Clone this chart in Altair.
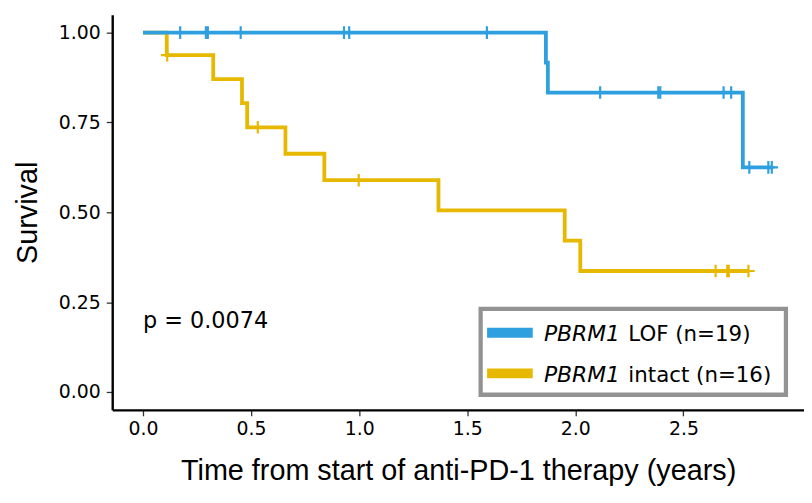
import altair as alt
import pandas as pd

# ---------------- data ----------------
groups = ["PBRM1 LOF", "PBRM1 intact"]
colors = ["#2E9FDF", "#E7B800"]

lof_event_times = [1.864, 1.873, 2.775]
lof_event_surv = [0.9167, 0.8333, 0.625]
lof_censor_times = [0.172, 0.291, 0.300, 0.452, 0.930, 0.954, 1.591,
                    2.115, 2.384, 2.393, 2.686, 2.721, 2.805, 2.893, 2.909]

intact_event_times = [0.110, 0.325, 0.458, 0.482, 0.659, 0.839, 1.367, 1.951, 2.023]
intact_event_surv = [0.9375, 0.8705, 0.8036, 0.7366, 0.6630, 0.5893, 0.5051, 0.4209, 0.3367]
intact_censor_times = [0.112, 0.531, 0.998, 2.649, 2.703, 2.710, 2.801]

x_ticks = [0, 0.5, 1.0, 1.5, 2.0, 2.5]
y_ticks = [0, 0.25, 0.5, 0.75, 1.0]
x_title = "Time from start of anti-PD-1 therapy (years)"
y_title = "Survival"
legend_italic = ["PBRM1", "PBRM1"]
legend_suffix = ["LOF (n=19)", "intact (n=16)"]
p_label = ["p = 0.0074"]
p_time = [0.0]
p_surv = [0.178]


def surv_at(t, et, es):
    s = 1.0
    for tt, ss in zip(et, es):
        if tt <= t:
            s = ss
    return s


def curve_df(name, et, es, ct):
    times = [0.0] + list(et)
    survs = [1.0] + list(es)
    end = max(list(ct) + list(et))
    times.append(end)
    survs.append(surv_at(end, et, es))
    return pd.DataFrame({"time": times, "surv": survs, "group": name,
                         "idx": list(range(len(times)))})


def censor_df(name, et, es, ct):
    return pd.DataFrame({"time": ct, "surv": [surv_at(c, et, es) for c in ct],
                         "group": name})


curves = {
    groups[0]: (lof_event_times, lof_event_surv, lof_censor_times),
    groups[1]: (intact_event_times, intact_event_surv, intact_censor_times),
}

# ---------------- scales & axes ----------------
xs = alt.Scale(domain=[-0.1424, 3.058], nice=False, zero=False)
ys = alt.Scale(domain=[-0.0497, 1.0497], nice=False, zero=False)
cs = alt.Scale(domain=groups, range=colors)

x_axis = alt.Axis(values=x_ticks, format=".1f", title=x_title, grid=False,
                  titleFont="Liberation Sans", titleFontSize=29, titleFontWeight="normal",
                  titleColor="black", titleBaseline="alphabetic", titleY=69.7,
                  labelFont="DejaVu Sans", labelFontSize=19, labelColor="black",
                  labelPadding=4, tickSize=6, tickColor="#333333", tickWidth=1.3,
                  domainColor="black", domainWidth=2.4, labelFlush=False)
y_axis = alt.Axis(values=y_ticks, format=".2f", title=y_title, grid=False,
                  titleFont="Liberation Sans", titleFontSize=29, titleFontWeight="normal",
                  titleColor="black", titleBaseline="alphabetic", titleX=-76.6, titleY=199,
                  labelFont="DejaVu Sans", labelFontSize=19, labelColor="black",
                  labelPadding=6, tickSize=6, tickColor="#333333", tickWidth=1.3,
                  domainColor="black", domainWidth=2.4, labelFlush=False)

X = alt.X("time:Q", scale=xs, axis=x_axis)
Y = alt.Y("surv:Q", scale=ys, axis=y_axis)
C = alt.Color("group:N", scale=cs, legend=None)

layers = []
# draw intact first, LOF on top
for name in [groups[1], groups[0]]:
    et, es, ct = curves[name]
    layers.append(
        alt.Chart(curve_df(name, et, es, ct)).mark_line(
            interpolate="step-after", strokeWidth=3.8, strokeJoin="miter"
        ).encode(x=X, y=Y, color=C, order="idx:Q")
    )
    layers.append(
        alt.Chart(censor_df(name, et, es, ct)).mark_point(
            shape="M0,-1L0,1M-1,0L1,0", filled=False, size=161,
            strokeWidth=2.2, opacity=1
        ).encode(x=X, y=Y, color=C)
    )

# p-value annotation
layers.append(
    alt.Chart(pd.DataFrame({"time": p_time, "surv": p_surv, "label": p_label}))
    .mark_text(font="DejaVu Sans", fontSize=22.5, align="left", baseline="alphabetic",
               color="black")
    .encode(x=X, y=Y, text="label:N")
)

# custom legend (box, swatches, mixed italic / regular labels)
one = pd.DataFrame({"a": [0]})
layers.append(
    alt.Chart(one).mark_rect(fill="white", stroke="#939393", strokeWidth=4.3)
    .encode(x=alt.value(371.2), x2=alt.value(678.8), y=alt.value(296.2), y2=alt.value(382.8))
)
row_y = [320.3, 361.3]
for i in range(2):
    layers.append(
        alt.Chart(one).mark_rule(strokeWidth=10, color=colors[i], strokeCap="butt")
        .encode(x=alt.value(377.7), x2=alt.value(423.7), y=alt.value(row_y[i]))
    )
    layers.append(
        alt.Chart(one).mark_text(text=legend_italic[i], font="DejaVu Sans", fontStyle="italic",
                                 fontSize=22, align="left", baseline="alphabetic", color="black")
        .encode(x=alt.value(435), y=alt.value(row_y[i] + 8.4))
    )
    layers.append(
        alt.Chart(one).mark_text(text=legend_suffix[i], font="DejaVu Sans",
                                 fontSize=21.5, align="left", baseline="alphabetic", color="black")
        .encode(x=alt.value(520), y=alt.value(row_y[i] + 8.4))
    )

chart = alt.layer(*layers).properties(
    width=697, height=398,
    autosize=alt.AutoSizeParams(type="none"),
    padding={"left": 105, "top": 5, "right": 0, "bottom": 90},
).configure_view(stroke=None)

chart.save("out.html", embed_options={"renderer": "svg", "actions": False})
